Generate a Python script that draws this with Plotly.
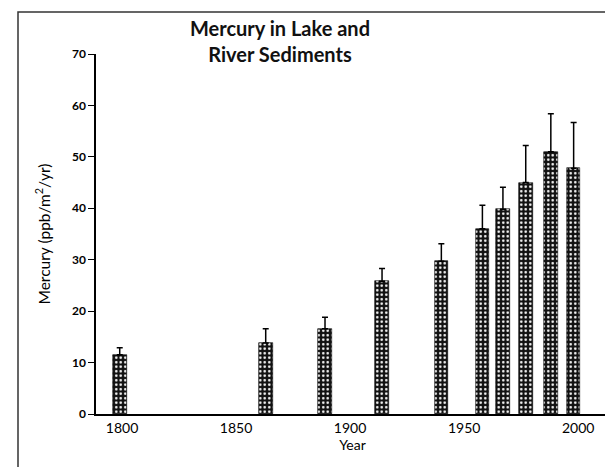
import plotly.graph_objects as go

years = [1799, 1863, 1889, 1914, 1940, 1958, 1967, 1977, 1988, 1998]
mercury = [11.5, 13.8, 16.6, 25.8, 29.7, 36.0, 39.8, 45.0, 51.0, 47.8]
err_up = [1.4, 2.8, 2.2, 2.5, 3.4, 4.6, 4.3, 7.2, 7.4, 8.9]
x_ticks = [1800, 1850, 1900, 1950, 2000]
y_ticks = [0, 10, 20, 30, 40, 50, 60, 70]

FONT = "Lato"
W, H = 613, 467
L, R, T, B = 88, 12, 46, 61
PW, PH = W - L - R, H - T - B


def px_to_paper_x(px):
    return (px - L) / PW


def px_to_paper_y(py):
    return (H - B - py) / PH


fig = go.Figure()
fig.add_trace(go.Bar(
    x=years, y=mercury, width=6,
    marker=dict(
        color="black",
        line=dict(color="black", width=0.6),
        pattern=dict(shape=".", bgcolor="#111", fgcolor="white",
                     size=4.5, solidity=0.25, fillmode="replace"),
    ),
    error_y=dict(type="data", symmetric=False, array=err_up,
                 arrayminus=[0] * len(err_up),
                 color="black", thickness=1.5, width=3),
    showlegend=False,
))

fig.update_layout(
    width=W, height=H,
    margin=dict(l=L, r=R, t=T, b=B),
    paper_bgcolor="white", plot_bgcolor="white",
    font=dict(family=FONT, color="black"),
    bargap=0,
)

fig.add_annotation(
    text="<b>Mercury in Lake and<br>River Sediments</b>",
    font=dict(family=FONT, size=20, color="#111"),
    xref="paper", yref="paper",
    x=px_to_paper_x(272), y=px_to_paper_y(6),
    xanchor="center", yanchor="top", showarrow=False, align="center",
)

fig.update_xaxes(
    range=[1788.6, 2013.5],
    tickvals=x_ticks, ticktext=[str(v) for v in x_ticks],
    showgrid=False, zeroline=False,
    showline=True, linecolor="black", linewidth=1.5,
    ticks="", tickfont=dict(size=14, family=FONT),
    title=dict(text="Year", font=dict(size=14, family=FONT), standoff=3),
)
fig.update_yaxes(
    range=[0, 70],
    tickvals=y_ticks, ticktext=[str(v) for v in y_ticks],
    showgrid=False, zeroline=False,
    showline=True, linecolor="black", linewidth=1.5,
    ticks="outside", ticklen=6, tickwidth=1.2, tickcolor="black",
    tickfont=dict(size=12, family=FONT, weight="bold"),
    title=dict(text="Mercury (ppb/m<sup>2</sup>/yr)",
               font=dict(size=15.5, family=FONT), standoff=18),
)

# outer frame
fig.add_shape(type="rect", xref="paper", yref="paper",
              x0=px_to_paper_x(10), x1=px_to_paper_x(610),
              y0=px_to_paper_y(475), y1=px_to_paper_y(4),
              line=dict(color="#333", width=1.5), fillcolor="rgba(0,0,0,0)",
              layer="below")

fig.write_html("out.html")
